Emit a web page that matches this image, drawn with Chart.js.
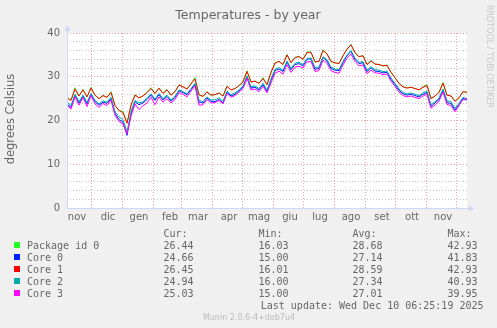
<!DOCTYPE html>
<html>
<head>
<meta charset="utf-8">
<script src="https://cdn.jsdelivr.net/npm/chart.js@4"></script>
<style>
  html, body { margin: 0; padding: 0; background: #f0f0f0; }
  canvas { display: block; }
</style>
</head>
<body>
<canvas id="chart" width="497" height="328"></canvas>
<script>
// day offsets from the start of the graph (about 7 Nov 2024)
const days = [0, 4, 8, 12, 16, 20, 24, 28, 32, 36, 40, 44, 48, 52, 56, 60, 64, 68, 72, 76,
  80, 84, 88, 92, 96, 100, 104, 108, 112, 116, 120, 124, 128, 132, 136, 140, 144, 148, 152, 156,
  160, 164, 168, 172, 176, 180, 184, 188, 192, 196, 200, 204, 208, 212, 216, 220, 224, 228, 232, 236,
  240, 244, 248, 252, 256, 260, 264, 268, 272, 276, 280, 284, 288, 292, 296, 300, 304, 308, 312, 316,
  320, 324, 328, 332, 336, 340, 344, 348, 352, 356, 360, 364, 368, 372, 376, 380, 384, 388, 392, 396, 400];

const packageId0 = [25.4, 24.6, 27.5, 25.6, 27.1, 25.4, 27.6, 25.8, 25.0, 25.7, 25.3, 26.6, 23.4, 22.3, 22.1, 19.4, 23.5, 25.9, 25.2, 25.6,
  26.4, 27.5, 26.2, 27.4, 26.2, 27.1, 25.8, 26.6, 28.2, 27.7, 27.2, 28.5, 29.8, 25.9, 25.5, 26.6, 25.8, 25.9, 26.3, 25.6,
  27.9, 27.0, 27.3, 28.0, 28.9, 31.4, 28.8, 29.0, 28.5, 29.8, 28.2, 31.0, 33.2, 33.5, 32.8, 35.1, 33.2, 34.4, 34.7, 34.0,
  35.7, 35.6, 33.4, 33.5, 36.2, 35.2, 33.5, 33.2, 33.0, 34.9, 36.3, 37.4, 35.5, 34.6, 34.8, 32.8, 33.7, 32.9, 32.8, 32.5,
  32.7, 31.0, 29.8, 28.5, 27.7, 27.5, 27.6, 27.3, 27.0, 27.7, 28.2, 25.0, 25.6, 26.5, 28.7, 25.8, 25.6, 24.4, 25.2, 26.6, 26.44];
const core0 = [23.8, 23.0, 25.8, 24.0, 25.6, 23.8, 26.0, 24.3, 23.5, 24.2, 23.9, 25.0, 21.6, 20.2, 19.6, 16.6, 21.5, 24.3, 23.6, 24.0,
  24.8, 25.8, 24.6, 25.9, 24.7, 25.5, 24.4, 25.3, 26.8, 26.4, 25.9, 27.1, 28.3, 24.2, 24.0, 25.1, 24.4, 24.3, 24.8, 24.0,
  26.4, 25.6, 26.0, 26.8, 27.7, 30.0, 27.4, 27.6, 27.0, 28.2, 26.7, 29.2, 31.4, 31.8, 31.2, 33.4, 31.6, 32.8, 33.0, 32.5,
  34.0, 34.1, 31.7, 31.9, 34.4, 33.6, 31.9, 31.5, 31.4, 33.2, 34.8, 35.8, 34.0, 33.0, 33.2, 31.2, 32.0, 31.3, 31.2, 30.9,
  31.0, 29.4, 28.2, 26.9, 26.1, 25.8, 26.0, 25.7, 25.4, 26.0, 26.4, 23.2, 24.0, 24.8, 27.0, 24.1, 23.9, 22.4, 23.6, 25.0, 24.66];
const core1 = [25.2, 24.6, 27.2, 25.6, 27.0, 25.4, 27.4, 25.8, 25.0, 25.7, 25.3, 26.4, 23.4, 22.3, 21.8, 19.4, 23.5, 25.8, 25.2, 25.6,
  26.4, 27.3, 26.2, 27.4, 26.2, 27.0, 25.8, 26.6, 28.1, 27.7, 27.2, 28.4, 29.5, 25.9, 25.5, 26.5, 25.8, 25.9, 26.3, 25.6,
  27.8, 27.0, 27.3, 28.0, 28.8, 31.2, 28.8, 29.0, 28.5, 29.6, 28.2, 31.0, 33.1, 33.5, 32.8, 35.0, 33.2, 34.4, 34.6, 34.0,
  35.5, 35.6, 33.4, 33.5, 36.0, 35.2, 33.5, 33.2, 33.0, 34.8, 36.3, 37.3, 35.5, 34.6, 34.8, 32.8, 33.6, 32.9, 32.8, 32.5,
  32.6, 31.0, 29.8, 28.5, 27.7, 27.4, 27.6, 27.3, 27.0, 27.6, 28.0, 25.0, 25.6, 26.4, 28.5, 25.8, 25.6, 24.4, 25.2, 26.6, 26.45];
const core2 = [24.2, 23.4, 26.0, 24.3, 25.8, 24.1, 26.2, 24.6, 23.8, 24.5, 24.2, 25.3, 22.0, 20.8, 20.2, 17.4, 22.0, 24.6, 24.0, 24.3,
  25.1, 26.1, 24.9, 26.2, 25.0, 25.8, 24.7, 25.5, 27.0, 26.6, 26.1, 27.3, 28.5, 24.6, 24.3, 25.4, 24.7, 24.7, 25.2, 24.4,
  26.7, 25.9, 26.3, 27.0, 27.9, 30.2, 27.7, 27.9, 27.3, 28.5, 27.0, 29.5, 31.7, 32.1, 31.5, 33.6, 31.9, 33.1, 33.3, 32.8,
  34.2, 34.3, 32.1, 32.2, 34.6, 33.9, 32.2, 31.8, 31.6, 33.5, 35.0, 36.0, 34.2, 33.3, 33.5, 31.5, 32.3, 31.6, 31.5, 31.2,
  31.3, 29.7, 28.5, 27.2, 26.4, 26.1, 26.3, 26.0, 25.7, 26.3, 26.7, 23.6, 24.3, 25.1, 27.2, 24.5, 24.3, 22.8, 23.9, 25.3, 24.94];
const core3 = [23.6, 22.6, 25.4, 23.5, 25.2, 23.2, 25.7, 23.8, 23.0, 23.9, 23.4, 24.7, 21.2, 19.8, 19.2, 17.0, 21.0, 23.8, 22.5, 23.4,
  24.0, 25.3, 23.6, 25.4, 24.2, 25.0, 24.0, 24.8, 26.4, 26.0, 25.4, 26.7, 27.9, 23.5, 23.6, 24.8, 24.0, 24.1, 24.6, 23.8,
  26.2, 25.3, 25.7, 26.5, 27.3, 29.6, 27.0, 27.2, 26.6, 27.8, 26.3, 28.6, 30.8, 31.3, 30.6, 32.8, 31.0, 32.2, 32.4, 32.0,
  33.4, 33.5, 31.2, 31.4, 33.8, 33.1, 31.4, 31.0, 30.8, 32.7, 34.2, 35.2, 33.5, 32.5, 32.7, 30.7, 31.5, 30.9, 30.8, 30.5,
  30.6, 29.0, 27.8, 26.5, 25.7, 25.4, 25.6, 25.3, 25.0, 25.6, 26.0, 22.8, 23.5, 24.4, 26.5, 23.7, 23.4, 22.0, 23.4, 24.8, 25.03];

// month boundaries (vertical grid) and month label centres, in day offsets
const monthStarts = [24, 55, 86, 114, 145, 175, 206, 236, 267, 298, 328, 359, 389];
const labelDays = [10, 41, 72, 103, 131, 162, 192, 223, 253, 284, 315, 345, 376];
const monthLabels = ['nov', 'dic', 'gen', 'feb', 'mar', 'apr', 'mag', 'giu', 'lug', 'ago', 'set', 'ott', 'nov'];

// legend table
const seriesNames = ['Package id 0', 'Core 0', 'Core 1', 'Core 2', 'Core 3'];
const seriesColors = ['#22ff22', '#0022ff', '#ff0000', '#00aaaa', '#ff00ff'];
const curValues = ['26.44', '24.66', '26.45', '24.94', '25.03'];
const minValues = ['16.03', '15.00', '16.01', '16.00', '15.00'];
const avgValues = ['28.68', '27.14', '28.59', '27.34', '27.01'];
const maxValues = ['42.93', '41.83', '42.93', '40.93', '39.95'];

const FONT = '#666666';
const AXIS = '#CFD6F8';
const SANS = '"DejaVu Sans", sans-serif';
const MONO = '"DejaVu Sans Mono", monospace';

const allSeries = [packageId0, core0, core1, core2, core3];

// munin frame: background, title, axis arrows, legend table
const muninFrame = {
    id: 'muninFrame',
    beforeDraw(chart) {
        const { ctx, chartArea: a } = chart;
        ctx.save();
        ctx.fillStyle = '#f0f0f0';
        ctx.fillRect(0, 0, chart.width, chart.height);
        ctx.fillStyle = '#ffffff';
        ctx.fillRect(a.left, a.top, a.right - a.left, a.bottom - a.top);
        ctx.restore();
    },
    afterDraw(chart) {
        const { ctx, chartArea: a } = chart;
        ctx.save();

        // axes with arrows
        ctx.strokeStyle = AXIS;
        ctx.fillStyle = AXIS;
        ctx.lineWidth = 1;
        ctx.beginPath();
        ctx.moveTo(a.left + 0.5, a.bottom);
        ctx.lineTo(a.left + 0.5, a.top - 4);
        ctx.moveTo(a.left, a.bottom + 0.5);
        ctx.lineTo(a.right + 3, a.bottom + 0.5);
        ctx.stroke();
        ctx.beginPath();
        ctx.moveTo(a.left - 2.5, a.top - 2);
        ctx.lineTo(a.left + 3.5, a.top - 2);
        ctx.lineTo(a.left + 0.5, a.top - 8);
        ctx.closePath();
        ctx.fill();
        ctx.beginPath();
        ctx.moveTo(a.right + 2, a.bottom - 2.5);
        ctx.lineTo(a.right + 2, a.bottom + 3.5);
        ctx.lineTo(a.right + 7, a.bottom + 0.5);
        ctx.closePath();
        ctx.fill();

        // title
        ctx.fillStyle = FONT;
        ctx.font = '12.5px ' + SANS;
        ctx.textAlign = 'center';
        ctx.textBaseline = 'alphabetic';
        ctx.fillText('Temperatures - by year', 248, 18.5);

        // vertical axis title
        ctx.save();
        ctx.translate(11, 119);
        ctx.rotate(-Math.PI / 2);
        ctx.font = '11.5px ' + SANS;
        ctx.textBaseline = 'middle';
        ctx.fillText('degrees Celsius', 0, 0);
        ctx.restore();

        // rrdtool watermark
        ctx.save();
        ctx.translate(489, 5);
        ctx.rotate(Math.PI / 2);
        ctx.font = '8px ' + SANS;
        ctx.fillStyle = '#c8c8c8';
        ctx.textAlign = 'left';
        ctx.textBaseline = 'middle';
        ctx.fillText('RRDTOOL / TOBI OETIKER', 0, 0);
        ctx.restore();

        // legend table
        ctx.font = '10px ' + MONO;
        ctx.textAlign = 'left';
        ctx.textBaseline = 'alphabetic';
        ctx.fillStyle = FONT;
        const cols = [163.5, 258.5, 352.5, 447.5];
        ['Cur:', 'Min:', 'Avg:', 'Max:'].forEach((h, i) => ctx.fillText(h, cols[i], 236.5));
        seriesNames.forEach((name, i) => {
            const y = 248.5 + i * 12;
            ctx.fillStyle = seriesColors[i];
            ctx.fillRect(14, y - 6.5, 6, 6);
            ctx.fillStyle = FONT;
            ctx.fillText(name, 27, y);
            ctx.fillText(curValues[i], cols[0], y);
            ctx.fillText(minValues[i], cols[1], y);
            ctx.fillText(avgValues[i], cols[2], y);
            ctx.fillText(maxValues[i], cols[3], y);
        });
        ctx.textAlign = 'right';
        ctx.fillText('Last update: Wed Dec 10 06:25:19 2025', 483.5, 308.5);

        ctx.textAlign = 'center';
        ctx.font = '8px ' + SANS;
        ctx.fillStyle = '#bbbbbb';
        ctx.fillText('Munin 2.0.6-4+deb7u4', 249, 319.5);
        ctx.restore();
    }
};

function renderChart() {
    const ctx = document.getElementById('chart').getContext('2d');
    // munin draws in legend order, so the last series ends up on top
    const datasets = seriesNames.map((name, i) => ({
        label: name,
        data: allSeries[i].map((v, j) => ({ x: days[j], y: v })),
        borderColor: seriesColors[i],
        borderWidth: 1,
        pointRadius: 0,
        tension: 0,
        fill: false,
        order: seriesNames.length - i
    }));

    new Chart(ctx, {
        type: 'line',
        data: { datasets },
        options: {
            responsive: false,
            animation: false,
            devicePixelRatio: 1,
            layout: { padding: { top: 33, right: 30, left: 0, bottom: 0 } },
            plugins: { legend: { display: false }, tooltip: { enabled: false } },
            scales: {
                x: {
                    type: 'linear',
                    min: 0,
                    max: 400,
                    afterBuildTicks: scale => { scale.ticks = monthStarts.map(v => ({ value: v })); },
                    afterFit: scale => { scale.height = 0; },
                    ticks: { display: false, autoSkip: false },
                    border: { display: false, dash: [1, 2] },
                    grid: { color: '#f0a0a0', lineWidth: 1, drawTicks: false }
                },
                xl: {
                    type: 'linear',
                    position: 'bottom',
                    min: 0,
                    max: 400,
                    afterBuildTicks: scale => { scale.ticks = labelDays.map(v => ({ value: v })); },
                    afterFit: scale => { scale.height = 120; },
                    ticks: {
                        autoSkip: false,
                        maxRotation: 0,
                        padding: 3,
                        color: FONT,
                        font: { family: SANS, size: 10 },
                        callback: (v, i) => monthLabels[i]
                    },
                    border: { display: false },
                    grid: { display: false, drawTicks: false }
                },
                y: {
                    min: 0,
                    max: 40,
                    afterFit: scale => { scale.width = 67; },
                    ticks: {
                        stepSize: 2,
                        autoSkip: false,
                        padding: 7,
                        color: FONT,
                        font: { family: SANS, size: 10 },
                        callback: v => (v % 10 === 0 ? v : '')
                    },
                    border: { display: false, dash: [1, 2] },
                    grid: {
                        drawTicks: false,
                        lineWidth: 1,
                        color: c => (c.tick && c.tick.value % 10 === 0 ? '#f0a0a0' : '#c4c4c4')
                    }
                }
            }
        },
        plugins: [muninFrame]
    });
}

window.onload = renderChart;
</script>
</body>
</html>
